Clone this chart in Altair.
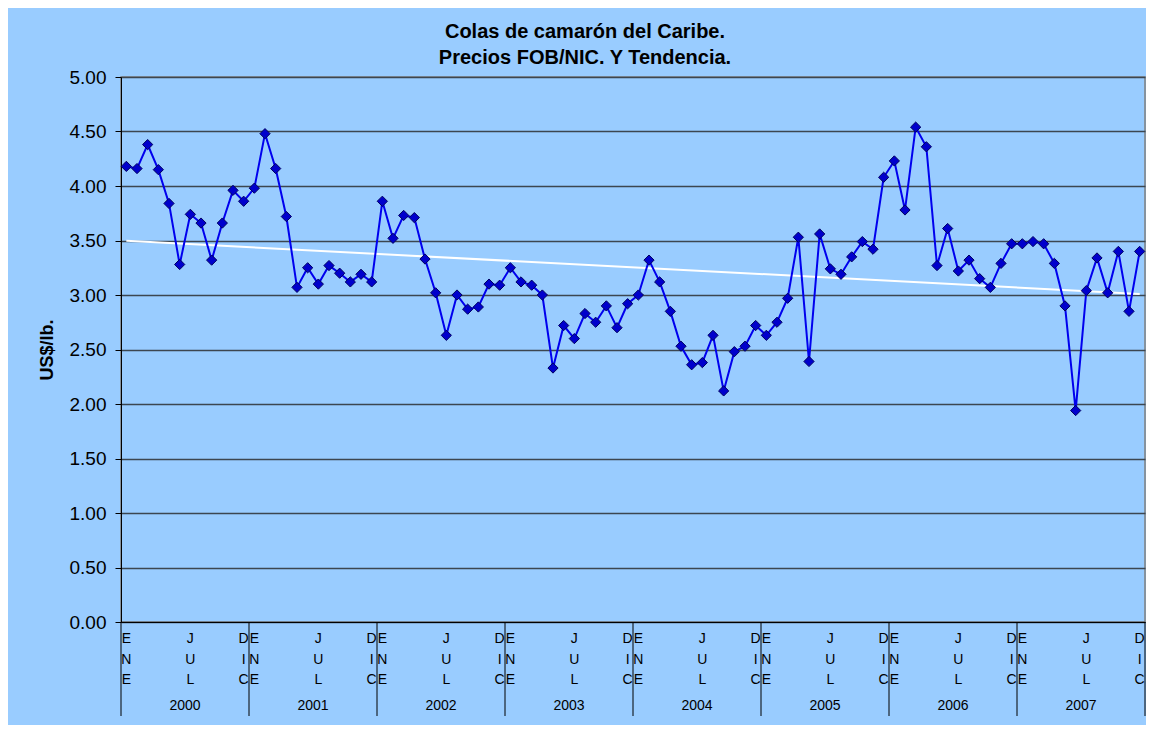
import altair as alt
import pandas as pd

# Monthly FOB prices (US$/lb), Jan..Dec for each year
years = [2000, 2001, 2002, 2003, 2004, 2005, 2006, 2007]
p2000 = [4.18, 4.16, 4.38, 4.15, 3.84, 3.28, 3.74, 3.66, 3.32, 3.66, 3.96, 3.86]
p2001 = [3.98, 4.48, 4.16, 3.72, 3.07, 3.25, 3.10, 3.27, 3.20, 3.12, 3.19, 3.12]
p2002 = [3.86, 3.52, 3.73, 3.71, 3.33, 3.02, 2.63, 3.00, 2.87, 2.89, 3.10, 3.09]
p2003 = [3.25, 3.12, 3.09, 3.00, 2.33, 2.72, 2.60, 2.83, 2.75, 2.90, 2.70, 2.92]
p2004 = [3.00, 3.32, 3.12, 2.85, 2.53, 2.36, 2.38, 2.63, 2.12, 2.48, 2.53, 2.72]
p2005 = [2.63, 2.75, 2.97, 3.53, 2.39, 3.56, 3.24, 3.19, 3.35, 3.49, 3.42, 4.08]
p2006 = [4.23, 3.78, 4.54, 4.36, 3.27, 3.61, 3.22, 3.32, 3.15, 3.07, 3.29, 3.47]
p2007 = [3.47, 3.49, 3.47, 3.29, 2.90, 1.94, 3.04, 3.34, 3.02, 3.40, 2.85, 3.40]

month_labels = {0: "E\nN\nE", 6: "J\nU\nL", 11: "D\nI\nC"}
y_ticks = [0.0, 0.5, 1.0, 1.5, 2.0, 2.5, 3.0, 3.5, 4.0, 4.5, 5.0]
title_lines = ["Colas de camarón del Caribe.", "Precios FOB/NIC. Y Tendencia."]
y_title = "US$/lb."

prices = p2000 + p2001 + p2002 + p2003 + p2004 + p2005 + p2006 + p2007
df = pd.DataFrame({"m": [i + 0.5 for i in range(len(prices))], "v": prices})

lab_rows = []
for yi, yr in enumerate(years):
    for mi, txt in month_labels.items():
        lab_rows.append({"m": yi * 12 + mi + 0.5, "t": txt})
labs = pd.DataFrame(lab_rows)
yrs = pd.DataFrame({"m": [yi * 12 + 6 for yi in range(len(years))], "t": [str(y) for y in years]})
seps = pd.DataFrame({"m": [yi * 12 for yi in range(len(years) + 1)]})

FONT = "Liberation Sans"
X = alt.X("m:Q", scale=alt.Scale(domain=[0, 96], nice=False, zero=False),
          axis=alt.Axis(labels=False, ticks=False, grid=False, title=None,
                        domainColor="black", domainWidth=1))
Y = alt.Y("v:Q", scale=alt.Scale(domain=[0, 5], nice=False, zero=True),
          axis=alt.Axis(values=y_ticks, format=".2f", title=y_title,
                        labelFontSize=19, labelColor="black", labelPadding=9,
                        tickSize=6, tickColor="black", domainColor="black",
                        grid=True, gridColor="#3c4650", gridWidth=1.3,
                        titleFontSize=18, titleFontWeight="bold", titleColor="black",
                        titlePadding=13, labelFont=FONT, titleFont=FONT))

trend = alt.Chart(df).transform_regression("m", "v").mark_line(
    color="white", strokeWidth=2).encode(x=X, y=Y)
line = alt.Chart(df).mark_line(color="#0000EE", strokeWidth=2).encode(x=X, y=Y)
pts = alt.Chart(df).mark_point(shape="diamond", filled=True, size=105, opacity=1,
                               fill="#0000CC", stroke="#000060", strokeWidth=1).encode(x=X, y=Y)
sep = alt.Chart(seps).mark_rule(color="black", strokeWidth=1).encode(
    x=X, y=alt.value(545), y2=alt.value(639))
mlab = alt.Chart(labs).mark_text(font=FONT, fontSize=14, lineBreak="\n", lineHeight=20.5,
                                 baseline="top", align="center", color="black").encode(
    x=X, y=alt.value(555), text="t:N")
ylab = alt.Chart(yrs).mark_text(font=FONT, fontSize=14, baseline="middle", align="center",
                                color="black").encode(x=X, y=alt.value(629), text="t:N")

chart = alt.layer(trend, line, pts, sep, mlab, ylab).properties(
    width=1024, height=545,
    title=alt.TitleParams(text=title_lines, fontSize=20, fontWeight="bold", font=FONT,
                          anchor="middle", dx=-48, offset=0, lineHeight=26, color="black"),
    autosize=alt.AutoSizeParams(type="none"),
    padding={"left": 113, "top": 69, "right": 1, "bottom": 103},
    background="#99CCFF",
).configure_view(fill="#99CCFF", stroke="#808080", strokeWidth=1.5)

chart.save("out.html", embed_options={"renderer": "svg", "actions": False})
